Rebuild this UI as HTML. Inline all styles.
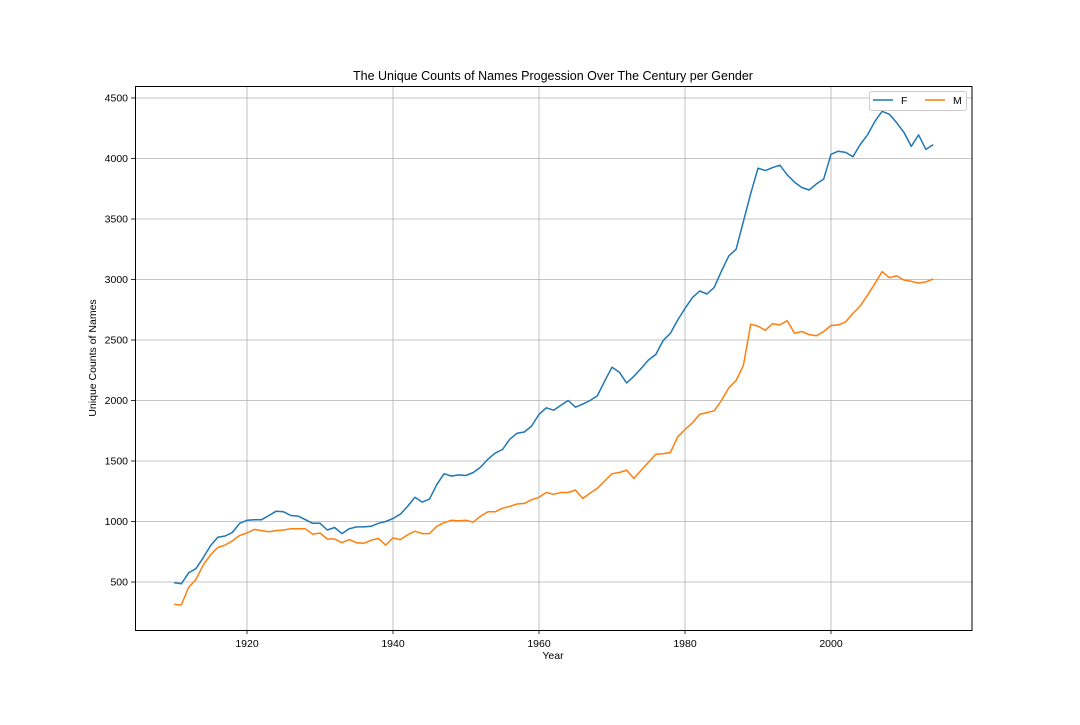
<!DOCTYPE html>
<html><head><meta charset="utf-8"><style>
body{margin:0;background:#fff;}
svg text{font-family:"Liberation Sans","DejaVu Sans",sans-serif;fill:#000;}
</style></head><body>
<svg id="chart" width="1080" height="720">
<rect x="0" y="0" width="1080" height="720" fill="#fff"/>
<g id="grid"></g>
<g id="lines"></g>
<rect x="135.5" y="86.5" width="836.5" height="544" fill="none" stroke="#000" stroke-width="1"/>
<g id="xticks"></g><g id="yticks"></g>
<text x="553" y="80" text-anchor="middle" font-size="12.5">The Unique Counts of Names Progession Over The Century per Gender</text>
<text x="553" y="659" text-anchor="middle" font-size="10.5">Year</text>
<text x="96" y="358" text-anchor="middle" font-size="10.5" transform="rotate(-90 96 358)">Unique Counts of Names</text>
<g>
<rect x="869.5" y="91.5" width="97" height="19" fill="#fff" stroke="#ccc" rx="2"/>
<line x1="873" y1="100" x2="893" y2="100" stroke="#1f77b4" stroke-width="1.5"/>
<text x="901" y="104" font-size="10.5">F</text>
<line x1="925" y1="100" x2="945" y2="100" stroke="#ff7f0e" stroke-width="1.5"/>
<text x="953" y="104" font-size="10.5">M</text>
</g>
</svg>
<script>
const startYear = 1910;
const femaleCounts = [495,485,575,610,700,800,870,880,910,985,1010,1015,1015,1050,1085,1080,1050,1045,1015,985,985,930,950,900,940,955,955,960,985,1000,1025,1060,1125,1200,1160,1185,1305,1395,1375,1385,1380,1405,1450,1515,1565,1595,1680,1730,1740,1790,1885,1940,1920,1960,2000,1945,1970,2000,2040,2160,2275,2235,2145,2200,2265,2335,2380,2495,2555,2665,2760,2850,2905,2880,2935,3070,3195,3250,3480,3710,3920,3900,3925,3945,3865,3805,3760,3740,3790,3830,4035,4060,4050,4015,4115,4195,4305,4390,4365,4295,4215,4100,4195,4075,4115];
const maleCounts = [315,310,455,520,640,725,785,805,840,885,905,935,925,915,925,930,940,940,940,895,905,855,855,825,850,825,820,845,860,805,865,850,890,920,900,900,960,990,1010,1005,1010,995,1045,1080,1080,1110,1125,1145,1150,1180,1200,1240,1225,1240,1240,1260,1190,1235,1275,1335,1395,1405,1425,1355,1425,1490,1555,1560,1570,1700,1760,1815,1885,1900,1915,2000,2105,2165,2290,2630,2615,2580,2635,2625,2660,2555,2570,2545,2535,2570,2620,2625,2650,2720,2780,2870,2965,3065,3015,3030,2995,2985,2970,2980,3005];
const xTickLabels = [1920,1940,1960,1980,2000];
const yTickLabels = [500,1000,1500,2000,2500,3000,3500,4000,4500];

const NS="http://www.w3.org/2000/svg";
function xs(yr){return 247+(yr-1920)*7.3;}
function ys(v){return 582-(v-500)*0.121;}
function mk(t,a,p){const e=document.createElementNS(NS,t);for(const k in a)e.setAttribute(k,a[k]);p.appendChild(e);return e;}
const grid=document.getElementById('grid'),xt=document.getElementById('xticks'),yt=document.getElementById('yticks'),lines=document.getElementById('lines');
xTickLabels.forEach(v=>{
  const x=xs(v);
  const g=mk('line',{x1:x,x2:x,y1:86,y2:630,stroke:'#b0b0b0','stroke-width':0.8},grid);
  
  
  mk('line',{x1:x,x2:x,y1:630,y2:634,stroke:'#000','stroke-width':0.8},xt);
  const t=mk('text',{x:x,y:647,'text-anchor':'middle','font-size':10.5},xt);
  t.textContent=v;
  
  
});
yTickLabels.forEach(v=>{
  const y=ys(v);
  const g=mk('line',{x1:135,x2:972,y1:y,y2:y,stroke:'#b0b0b0','stroke-width':0.8},grid);
  
  
  mk('line',{x1:131,x2:135,y1:y,y2:y,stroke:'#000','stroke-width':0.8},yt);
  const t=mk('text',{x:128,y:y+3.5,'text-anchor':'end','font-size':10.5},yt);
  t.textContent=v;
  
  
});
function series(arr,color,name){
  const pts=arr.map((v,i)=>xs(startYear+i).toFixed(1)+','+ys(v).toFixed(1)).join(' ');
  const p=mk('polyline',{points:pts,fill:'none',stroke:color,'stroke-width':1.5,'stroke-linejoin':'round'},lines);
  
  
}
series(femaleCounts,'#1f77b4','line-f');
series(maleCounts,'#ff7f0e','line-m');
</script>
</body></html>
